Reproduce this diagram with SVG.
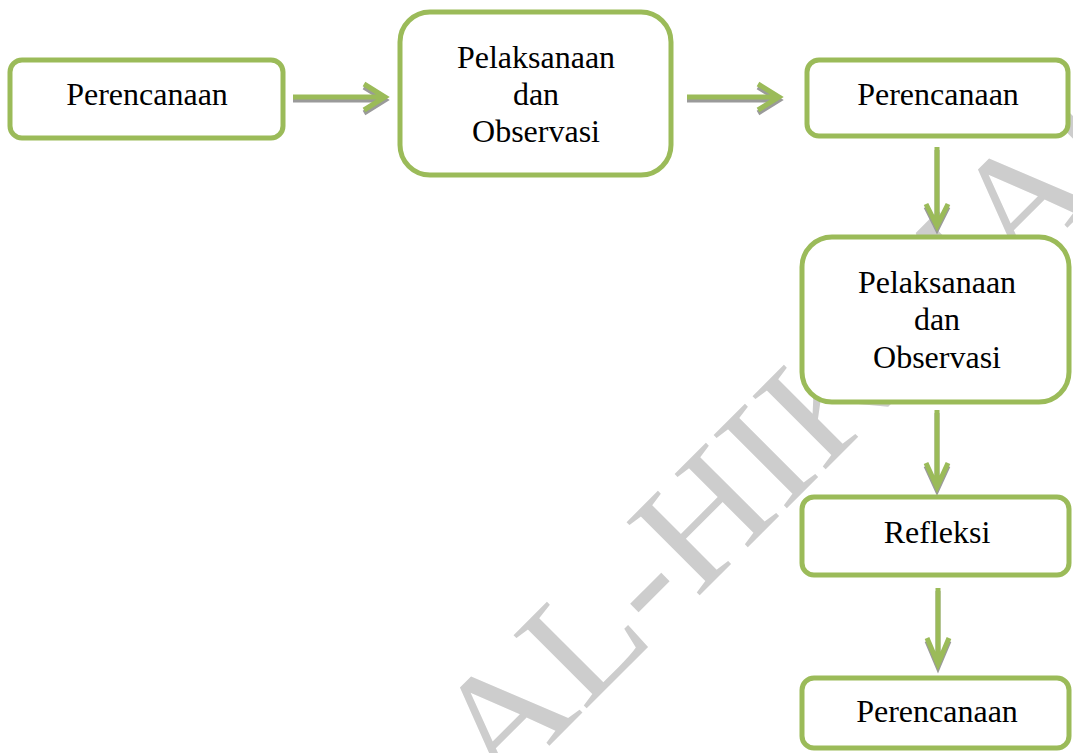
<svg xmlns="http://www.w3.org/2000/svg" width="1073" height="753" viewBox="0 0 1073 753">
<style>
.box{fill:#ffffff;stroke:#9BBB59;stroke-width:5}
.lbl{font-family:"Liberation Serif","Times New Roman",serif;font-size:32px;fill:#000;text-anchor:middle}
.wm{font-family:"Liberation Serif","Times New Roman",serif;font-size:158px;fill:#cdcdcd}
.sh{fill:none;stroke:#9a9a9a;stroke-width:5}
.ar{fill:none;stroke:#9BBB59;stroke-width:5}
</style>
<rect width="1073" height="753" fill="#ffffff"/>
<g id="watermark">
<text class="wm" transform="translate(497,798) rotate(-45) scale(1.07,1)">AL-HIKMAH</text>
</g>
<g id="connectors">
<g transform="translate(0,3)">
<path class="sh" d="M293,97 H384 M364,84 L385,97 L364,110"/>
<path class="sh" d="M687,97 H777 M758,84 L779,97 L758,110"/>
<path class="sh" d="M937,147 V225 M926,204 L937,226 L948,204"/>
<path class="sh" d="M937,410 V486 M926,463 L937,487 L948,463"/>
<path class="sh" d="M938,588 V663 M927,638 L938,664 L949,638"/>
</g>
<path class="ar" d="M293,97 H384 M364,84 L385,97 L364,110"/>
<path class="ar" d="M687,97 H777 M758,84 L779,97 L758,110"/>
<path class="ar" d="M937,147 V225 M926,204 L937,226 L948,204"/>
<path class="ar" d="M937,410 V486 M926,463 L937,487 L948,463"/>
<path class="ar" d="M938,588 V663 M927,638 L938,664 L949,638"/>
</g>
<g id="n1"><rect class="box" x="10" y="60" width="273" height="78" rx="12"/><text class="lbl" x="147" y="105">Perencanaan</text></g>
<g id="n2"><rect class="box" x="400" y="12" width="271" height="163" rx="30"/><text class="lbl" x="536" y="68">Pelaksanaan</text><text class="lbl" x="536" y="105">dan</text><text class="lbl" x="536" y="142">Observasi</text></g>
<g id="n3"><rect class="box" x="807" y="60" width="261" height="76" rx="12"/><text class="lbl" x="938" y="105">Perencanaan</text></g>
<g id="n4"><rect class="box" x="802" y="237" width="267" height="165" rx="30"/><text class="lbl" x="937" y="293">Pelaksanaan</text><text class="lbl" x="937" y="330">dan</text><text class="lbl" x="937" y="368">Observasi</text></g>
<g id="n5"><rect class="box" x="802" y="497" width="267" height="78" rx="12"/><text class="lbl" x="937" y="543">Refleksi</text></g>
<g id="n6"><rect class="box" x="802" y="678" width="267" height="70" rx="12"/><text class="lbl" x="937" y="722">Perencanaan</text></g>
</svg>
